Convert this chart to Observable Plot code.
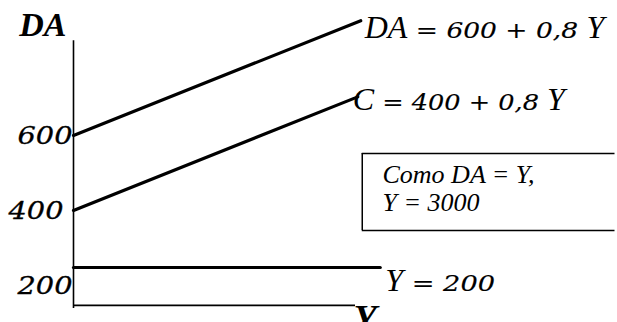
<!DOCTYPE html>
<html><head><meta charset="utf-8">
<script src="https://cdn.jsdelivr.net/npm/d3@7"></script>
<script src="https://cdn.jsdelivr.net/npm/@observablehq/plot@0.6"></script>
<style>
body{margin:0;background:#fff;overflow:hidden;width:617px;height:322px;}
svg{display:block;}
</style>
</head><body><div id="chart"></div>
<script>
// Renta (Y) en los extremos de cada recta
const rentaDA = [0, 383];
const valoresDA = [600, 906];            // DA = 600 + 0,8 Y
const rentaC = [0, 379];
const valoresC = [400, 703];             // C = 400 + 0,8 Y
const rentaH = [0, 409];
const valoresH = [248, 248];             // recta horizontal "Y = 200"
const ticksY = [600, 400, 200];
const etiquetaDA = "DA = 600 + 0,8 Y";
const etiquetaC = "C = 400 + 0,8 Y";
const etiquetaH = "Y = 200";
const textoCaja = "Como DA = Y,\nY = 3000";
const ejeY = [139, 853];                 // extensión del eje vertical
const ejeX = {nivel: 147, hasta: 376};   // eje horizontal
const caja = {x1: 385, x2: 722, y1: 347, y2: 552};
const posTexto = {x: 412, y: 400};

const seriesDA = rentaDA.map((r, i) => ({Y: r, v: valoresDA[i]}));
const seriesC = rentaC.map((r, i) => ({Y: r, v: valoresC[i]}));
const seriesH = rentaH.map((r, i) => ({Y: r, v: valoresH[i]}));

const serifIt = "'Liberation Serif', 'Times New Roman', serif";
const dejaIt = "'DejaVu Serif', serif";
// ancho de la parte numérica de cada ecuación (cifras anchas tipo Bookman)
const anchoNum = {[etiquetaDA]: 179, [etiquetaC]: 173, [etiquetaH]: 92};

const chart = Plot.plot({
  width: 617, height: 322, margin: 0,
  x: {domain: [0, 400], range: [73, 373], axis: null},
  y: {domain: [0, 1000], range: [360, -15], axis: null},
  style: {background: "#fff", overflow: "hidden"},
  marks: [
    Plot.ruleX([0], {y1: ejeY[0], y2: ejeY[1], stroke: "#000", strokeWidth: 1.6}),
    Plot.ruleY([ejeX.nivel], {x1: 0, x2: ejeX.hasta, stroke: "#000", strokeWidth: 1.6}),
    Plot.line(seriesDA, {x: "Y", y: "v", stroke: "#000", strokeWidth: 3.2}),
    Plot.line(seriesC, {x: "Y", y: "v", stroke: "#000", strokeWidth: 3.2}),
    Plot.line(seriesH, {x: "Y", y: "v", stroke: "#000", strokeWidth: 3.2}),
    // recuadro abierto por la derecha (cortado por el borde)
    Plot.ruleY([caja.y1, caja.y2], {x1: caja.x1, x2: caja.x2, stroke: "#000", strokeWidth: 1.5}),
    Plot.ruleX([caja.x1], {y1: caja.y1, y2: caja.y2, stroke: "#000", strokeWidth: 1.5}),
    Plot.text([textoCaja], {x: posTexto.x, y: posTexto.y, text: d => d, textAnchor: "start", lineAnchor: "bottom",
      lineHeight: 1.06, fontSize: 26, fontFamily: serifIt, fontStyle: "italic", fill: "#000"}),
    Plot.text(ticksY.filter(t => t !== 400), {x: 0, y: d => d, text: d => String(d), textAnchor: "end", dx: -1,
      fontSize: 25, fontFamily: dejaIt, fontStyle: "italic", fill: "#000", stroke: "#000", strokeWidth: 0.3,
      lineAnchor: "middle", className: "tick"}),
    Plot.text(ticksY.filter(t => t === 400), {x: 0, y: d => d, text: d => String(d), textAnchor: "end", dx: -10,
      fontSize: 25, fontFamily: dejaIt, fontStyle: "italic", fill: "#000", stroke: "#000", strokeWidth: 0.3,
      lineAnchor: "middle", className: "tick"}),
    Plot.text(["DA"], {x: 0, y: ejeY[1], text: d => d, textAnchor: "end", lineAnchor: "bottom", dx: -7, dy: -5,
      fontSize: 34, fontFamily: serifIt, fontStyle: "italic", fontWeight: "bold", fill: "#000"}),
    Plot.text(["Y"], {x: ejeX.hasta, y: ejeX.nivel, text: d => d, textAnchor: "start", lineAnchor: "top", dx: -2, dy: -1,
      fontSize: 38, fontFamily: serifIt, fontStyle: "italic", fontWeight: "bold", fill: "#000"}),
    Plot.text([seriesDA[1]], {x: "Y", y: "v", text: () => etiquetaDA, textAnchor: "start", lineAnchor: "bottom", dx: 4, dy: 17,
      className: "eq", fill: "#000"}),
    Plot.text([seriesC[1]], {x: "Y", y: "v", text: () => etiquetaC, textAnchor: "start", lineAnchor: "bottom", dx: -5, dy: 13,
      className: "eq", fill: "#000"}),
    Plot.text([seriesH[1]], {x: "Y", y: "v", text: () => etiquetaH, textAnchor: "start", lineAnchor: "bottom", dx: 5, dy: 23,
      className: "eq", fill: "#000"})
  ]
});

const NS = "http://www.w3.org/2000/svg";
// cifras de los ticks, ensanchadas
d3.select(chart).selectAll("g.tick text").each(function() {
  this.setAttribute("textLength", 55);
  this.setAttribute("lengthAdjust", "spacingAndGlyphs");
});
// mezcla de tipos: letras en Times cursiva, números y signos en serif ancha cursiva
d3.select(chart).selectAll("g.eq text").each(function() {
  const s = this.textContent;
  const ancho = anchoNum[s];
  this.textContent = "";
  this.setAttribute("style", "white-space: pre");
  s.split(/([A-Z]+)/).filter(p => p.length).forEach(p => {
    const t = document.createElementNS(NS, "tspan");
    t.textContent = p;
    t.setAttribute("font-style", "italic");
    if (/^[A-Z]+$/.test(p)) {
      t.setAttribute("font-family", serifIt);
      t.setAttribute("font-size", 32);
    } else {
      t.setAttribute("font-family", dejaIt);
      t.setAttribute("font-size", 22);
      t.setAttribute("stroke", "#000");
      t.setAttribute("stroke-width", 0.15);
      t.setAttribute("textLength", ancho);
      t.setAttribute("lengthAdjust", "spacingAndGlyphs");
    }
    this.appendChild(t);
  });
});

document.getElementById("chart").appendChild(chart);
</script>
</body></html>
